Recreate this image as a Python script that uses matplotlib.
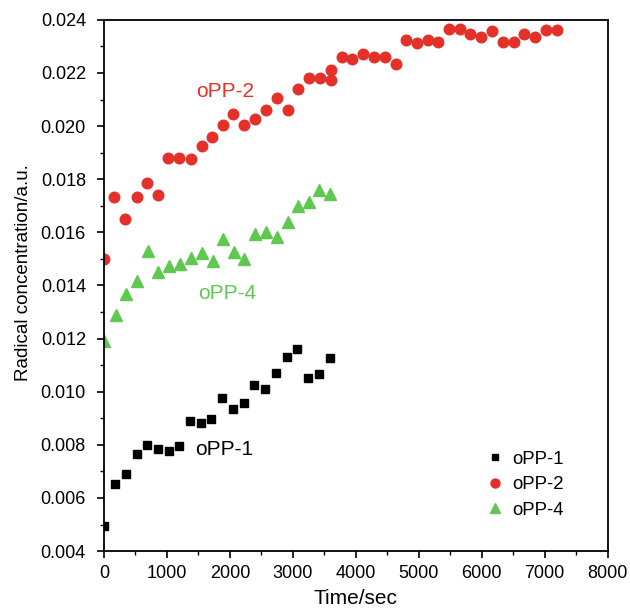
import matplotlib
matplotlib.use("Agg")
import matplotlib.pyplot as plt
from matplotlib.ticker import MultipleLocator, FormatStrFormatter

plt.rcParams.update({
    "font.family": ["Liberation Sans", "DejaVu Sans"],
    "axes.linewidth": 1.3,
})

# ── data ─────────────────────────────────────────────────────────
t_pp1 = [0, 175, 350, 524, 689, 858, 1028, 1192, 1360, 1535, 1705,
         1879, 2049, 2219, 2388, 2563, 2732, 2902, 3071, 3246, 3416, 3586]
c_pp1 = [0.00496, 0.00651, 0.00692, 0.00767, 0.00799, 0.00786, 0.00778,
         0.00795, 0.00888, 0.00883, 0.00898, 0.00978, 0.00935, 0.00958,
         0.01025, 0.01012, 0.01070, 0.01129, 0.01162, 0.01051, 0.01067,
         0.01127]

t_pp2 = [0, 159, 334, 519, 689, 863, 1022, 1196, 1376, 1551, 1721, 1890,
         2054, 2224, 2393, 2568, 2748, 2918, 3077, 3252, 3425, 3600, 3600,
         3775, 3944, 4119, 4289, 4459, 4634, 4802, 4972, 5142, 5311, 5480,
         5650, 5818, 5993, 6163, 6338, 6508, 6676, 6851, 7021, 7191]
c_pp2 = [0.01500, 0.01735, 0.01650, 0.01733, 0.01787, 0.01740, 0.01880,
         0.01880, 0.01878, 0.01926, 0.01958, 0.02003, 0.02045, 0.02003,
         0.02027, 0.02062, 0.02107, 0.02060, 0.02139, 0.02180, 0.02180,
         0.02211, 0.02173, 0.02262, 0.02254, 0.02273, 0.02259, 0.02262,
         0.02234, 0.02324, 0.02314, 0.02324, 0.02317, 0.02365, 0.02365,
         0.02345, 0.02337, 0.02358, 0.02318, 0.02318, 0.02345, 0.02335,
         0.02361, 0.02363]

t_pp4 = [0, 186, 350, 519, 694, 863, 1032, 1207, 1376, 1551, 1726, 1895,
         2065, 2229, 2399, 2574, 2748, 2918, 3082, 3252, 3420, 3594]
c_pp4 = [0.01190, 0.01289, 0.01368, 0.01417, 0.01531, 0.01452, 0.01473,
         0.01482, 0.01502, 0.01521, 0.01493, 0.01575, 0.01526, 0.01498,
         0.01594, 0.01602, 0.01583, 0.01638, 0.01700, 0.01713, 0.01759,
         0.01743]

RED = "#e3312a"
GREEN = "#5ec851"
W, H = 630, 611

fig = plt.figure(figsize=(W / 100, H / 100), dpi=100)
ax = fig.add_axes([0.165, 0.098, 0.7995, 0.8695])

ax.plot(t_pp1, c_pp1, "s", color="black", ms=5.6, label="oPP-1")
ax.plot(t_pp2, c_pp2, "o", color=RED, ms=7.6, label="oPP-2")
ax.plot(t_pp4, c_pp4, "^", color=GREEN, ms=8.0, label="oPP-4")

# in-plot series labels
ax.text(1461, 0.02131, "oPP-2", color=RED, fontsize=15, ha="left", va="center")
ax.text(1498, 0.01368, "oPP-4", color=GREEN, fontsize=15, ha="left", va="center")
ax.text(1445, 0.00784, "oPP-1", color="black", fontsize=15, ha="left", va="center")

ax.set_xlim(0, 8000)
ax.set_ylim(0.004, 0.024)
ax.xaxis.set_major_locator(MultipleLocator(1000))
ax.xaxis.set_minor_locator(MultipleLocator(500))
ax.yaxis.set_major_locator(MultipleLocator(0.002))
ax.yaxis.set_minor_locator(MultipleLocator(0.001))
ax.yaxis.set_major_formatter(FormatStrFormatter("%.3f"))
ax.tick_params(which="major", direction="out", length=5, width=1.2,
               labelsize=13, pad=5)
ax.tick_params(axis="y", which="major", pad=8)
ax.tick_params(which="minor", direction="out", length=3, width=1.0)

ax.set_xlabel("Time/sec", fontsize=15)
ax.xaxis.label.set_va("baseline")
ax.xaxis.set_label_coords(0.5, -0.1)
ax.set_ylabel("Radical concentration/a.u.", fontsize=13.5)
ax.yaxis.label.set_va("baseline")
ax.yaxis.set_label_coords(-0.151, 0.525)

ax.legend(loc="upper left", bbox_to_anchor=(467 / W, 1 - 434 / H),
          bbox_transform=fig.transFigure, frameon=False,
          fontsize=13.4, handletextpad=0.33, labelspacing=0.45,
          handlelength=1.2, markerscale=0.85)

fig.savefig("out.png", dpi=100)
